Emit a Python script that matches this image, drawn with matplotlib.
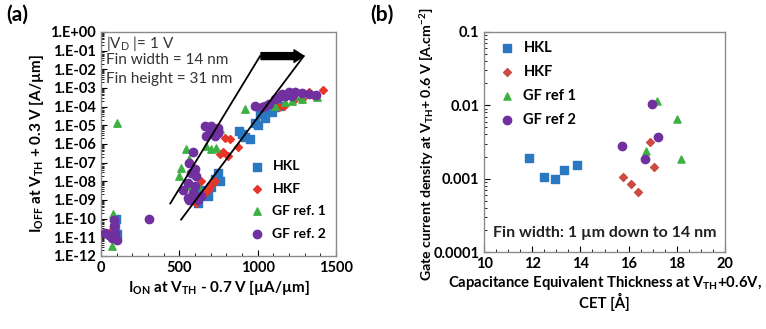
import numpy as np
import matplotlib
matplotlib.use('Agg')
import matplotlib.pyplot as plt
from matplotlib.ticker import LogLocator, MultipleLocator, NullFormatter

plt.rcParams['font.family'] = ['Lato', 'DejaVu Sans']
plt.rcParams['font.weight'] = 'bold'
plt.rcParams['mathtext.default'] = 'regular'

# ---- panel (a): Ioff vs Ion ----
hkl_ion = [95, 90, 100, 618, 586, 682, 747, 725, 757, 640, 600, 615, 660, 700,
           897, 950, 880, 920, 983, 1047, 1090, 1133, 1015, 1000, 1060, 1110]
hkl_ioff = [1e-10, 3e-11, 1.5e-11, 7e-10, 1.6e-9, 1.6e-9, 2.9e-8, 1.3e-8, 1e-8, 3.6e-9,
            1e-9, 2.5e-9, 3e-9, 5e-9,
            3.3e-6, 1.8e-6, 5e-6, 2.5e-6, 1.4e-5, 2.6e-5, 5e-5, 1.1e-4, 4e-5, 1e-5, 6e-5, 9e-5]

hkf_ion = [71, 597, 629, 661, 693, 725, 640, 607, 682, 757, 779, 811, 790, 822, 876,
           1133, 1165, 1283, 1326, 1416, 1358, 1240]
hkf_ioff = [2.5e-11, 1e-9, 1.3e-9, 2.4e-9, 5.5e-9, 1e-8, 1e-8, 7e-10, 3.6e-9, 2.8e-7,
            3.5e-7, 2.3e-7, 2.2e-6, 1.8e-6, 6.5e-7,
            9e-5, 1.1e-4, 2.6e-4, 5.9e-4, 8e-4, 3.9e-4, 2.6e-4]

gf1_ion = [99, 77, 71, 82, 543, 511, 500, 575, 564, 704, 736, 757, 672, 618,
           918, 1176, 1219, 1283, 1380, 1112, 1090, 1240]
gf1_ioff = [1.3e-5, 1.7e-10, 3.5e-12, 9e-12, 5.2e-7, 5.4e-8, 1.9e-8, 5.5e-9, 1.5e-7,
            5.2e-7, 6.3e-7, 6.3e-6, 8e-7, 5.5e-9,
            7.4e-5, 1.7e-4, 2.1e-4, 2.6e-4, 3.2e-4, 1.1e-4, 1.7e-4, 3.9e-4]

gf2_ion = [28, 82, 82, 92, 103, 71, 49, 307,
           554, 586, 618, 554, 521, 640, 564, 597,
           586, 564, 597, 607, 575,
           661, 693, 725, 747, 704, 672, 747,
           983, 1026, 1069, 1112, 1155, 1197, 1240, 1283, 1326, 1369, 1176, 1133, 1219, 1047]
gf2_ioff = [1.7e-11, 8.9e-11, 3.9e-11, 1.7e-11, 7.4e-12, 9e-12, 1.4e-11, 9.5e-11,
            8.3e-9, 2.4e-9, 1e-9, 1.3e-9, 3.6e-9, 1.6e-9, 1e-9, 5.5e-9,
            3.5e-7, 1e-7, 4.4e-8, 1.9e-8, 2.9e-8,
            9.3e-6, 5e-6, 2.7e-6, 4.1e-6, 9.3e-6, 2.7e-6, 7.6e-6,
            1.1e-4, 9.1e-5, 1.4e-4, 2.6e-4, 4.8e-4, 5.9e-4, 5.9e-4, 5.1e-4, 4.8e-4, 4.2e-4,
            3.9e-4, 3.2e-4, 3.9e-4, 1.1e-4]

# trend lines and arrow
line1_x = [442, 1015]
line1_y = [6.5e-10, 5.1e-2]
line2_x = [511, 1294]
line2_y = [8.9e-11, 5.1e-2]
arrow_x = [1021, 1294]
arrow_y = 5.1e-2

# ---- panel (b): gate current vs CET ----
b_hkl_cet = [11.88, 12.50, 12.95, 13.33, 13.87]
b_hkl_j = [0.0019, 0.00105, 0.00098, 0.0013, 0.00153]
b_hkf_cet = [15.75, 16.09, 16.40, 16.89, 17.07]
b_hkf_j = [0.00105, 0.00084, 0.00065, 0.00313, 0.00144]
b_gf1_cet = [16.72, 17.16, 17.99, 18.17]
b_gf1_j = [0.00237, 0.0115, 0.0065, 0.00187]
b_gf2_cet = [15.73, 16.68, 16.96, 17.23]
b_gf2_j = [0.00276, 0.00187, 0.0103, 0.0037]

blue = '#2a78c2'
red = '#e8352a'
red_b = '#cc4b44'
green = '#3cb043'
purple = '#7030a0'
frame = '#8a8a8a'

fig = plt.figure(figsize=(7.66, 3.29), dpi=100)
ax1 = fig.add_axes([0.1319, 0.2219, 0.3068, 0.681])
ax2 = fig.add_axes([0.6319, 0.234, 0.3146, 0.669])

ax1.scatter(hkl_ion, hkl_ioff, marker='s', s=36, color=blue, label='HKL', zorder=3)
ax1.scatter(hkf_ion, hkf_ioff, marker='D', s=16, color=red, label='HKF', zorder=3)
ax1.scatter(gf1_ion, gf1_ioff, marker='^', s=28, color=green, label='GF ref. 1', zorder=3)
ax1.scatter(gf2_ion, gf2_ioff, marker='o', s=36, color=purple, label='GF ref. 2', zorder=3)
ax1.plot(line1_x, line1_y, color='black', lw=1.3, zorder=4)
ax1.plot(line2_x, line2_y, color='black', lw=1.3, zorder=4)
ax1.annotate('', xy=(arrow_x[1], arrow_y), xytext=(arrow_x[0], arrow_y),
             arrowprops=dict(arrowstyle='simple,head_width=0.9,head_length=0.7,tail_width=0.5',
                             color='black', shrinkA=0, shrinkB=0), zorder=5)

ax1.set_yscale('log')
ax1.set_xlim(0, 1500)
ax1.set_ylim(1e-12, 1)
ax1.set_yticks([10.0**k for k in range(-12, 1)])
ax1.set_yticklabels(['1.E%+03d' % k if k < 0 else '1.E+00' for k in range(-12, 1)])
ax1.yaxis.set_minor_locator(LogLocator(base=10, subs=np.arange(2, 10), numticks=50))
ax1.yaxis.set_minor_formatter(NullFormatter())
ax1.set_xticks([0, 500, 1000, 1500])
ax1.xaxis.set_minor_locator(MultipleLocator(100))
ax1.set_xlabel('I$_{ON}$ at V$_{TH}$ - 0.7 V [µA/µm]', fontsize=11, fontweight='bold', labelpad=2)
ax1.set_ylabel('I$_{OFF}$ at V$_{TH}$ + 0.3 V [A/µm]', fontsize=11, fontweight='bold', labelpad=3)
ax1.text(0.02, 0.99, '|V$_D$ |= 1 V', transform=ax1.transAxes, va='top', fontsize=11,
         fontweight='normal', color='#333333')
ax1.text(0.02, 0.905, 'Fin width = 14 nm', transform=ax1.transAxes, va='top', fontsize=11,
         fontweight='normal', color='#333333')
ax1.text(0.02, 0.82, 'Fin height = 31 nm', transform=ax1.transAxes, va='top', fontsize=11,
         fontweight='normal', color='#333333')
ax1.legend(loc='lower right', frameon=False, fontsize=10, handletextpad=0.1,
           borderaxespad=0.3, labelspacing=0.75, bbox_to_anchor=(1.0, 0.03))

ax2.scatter(b_hkl_cet, b_hkl_j, marker='s', s=40, color=blue, label='HKL', zorder=3)
ax2.scatter(b_hkf_cet, b_hkf_j, marker='D', s=16, color=red_b, label='HKF', zorder=3)
ax2.scatter(b_gf1_cet, b_gf1_j, marker='^', s=26, color=green, label='GF ref 1', zorder=3)
ax2.scatter(b_gf2_cet, b_gf2_j, marker='o', s=36, color=purple, label='GF ref 2', zorder=3)
ax2.set_yscale('log')
ax2.set_xlim(10, 20)
ax2.set_ylim(1e-4, 0.1)
ax2.set_yticks([1e-4, 1e-3, 1e-2, 1e-1])
ax2.set_yticklabels(['0.0001', '0.001', '0.01', '0.1'])
ax2.yaxis.set_minor_locator(LogLocator(base=10, subs=np.arange(2, 10), numticks=50))
ax2.yaxis.set_minor_formatter(NullFormatter())
ax2.set_xticks([10, 12, 14, 16, 18, 20])
ax2.xaxis.set_minor_locator(MultipleLocator(0.5))
ax2.set_xlabel('Capacitance Equivalent Thickness at V$_{TH}$+0.6V,\nCET [Å]', fontsize=10.7,
               fontweight='bold', labelpad=2, linespacing=1.05)
ax2.set_ylabel('Gate current density at V$_{TH}$+ 0.6 V [A.cm$^{-2}$]', fontsize=10.2,
               fontweight='bold', labelpad=3)
ax2.yaxis.set_label_coords(-0.2, 0.49)
ax2.text(0.5, 0.055, 'Fin width: 1 µm down to 14 nm', transform=ax2.transAxes, ha='center',
         va='bottom', fontsize=11.5, fontweight='bold', color='#222222')
ax2.legend(loc='upper left', frameon=False, fontsize=10.5, handletextpad=0.1,
           borderaxespad=0.2, labelspacing=0.7)

for ax in (ax1, ax2):
    for sp in ax.spines.values():
        sp.set_color(frame)
        sp.set_linewidth(1.0)
    ax.tick_params(which='both', direction='in', colors='black', labelsize=10.5)
    ax.tick_params(which='major', length=4)
    ax.tick_params(which='minor', length=2.5)
    for lab in ax.get_xticklabels() + ax.get_yticklabels():
        lab.set_fontweight('bold')

fig.text(0.008, 0.985, '(a)', fontsize=15, fontweight='bold', va='top')
fig.text(0.483, 0.985, '(b)', fontsize=15, fontweight='bold', va='top')

fig.savefig('out.png', dpi=100)
